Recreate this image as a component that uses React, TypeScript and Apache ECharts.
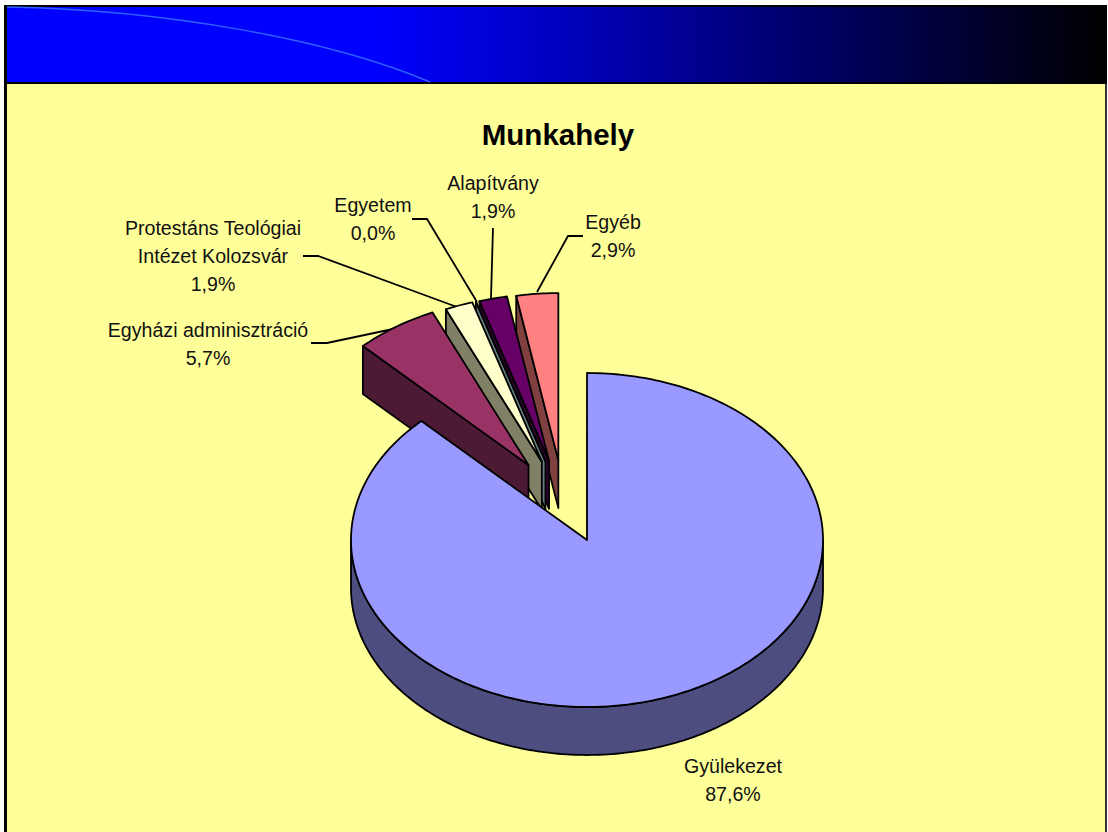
import React, { useEffect, useRef } from "react";
import * as echarts from "echarts";

const TITLE = "Munkahely";
const categories = ["Gyülekezet", "Egyházi adminisztráció", "Protestáns Teológiai\nIntézet Kolozsvár", "Egyetem", "Alapítvány", "Egyéb"];
const values = [92, 6, 2, 0, 2, 3];
const exploded = [false, true, true, true, true, true];
const topColors = ["#9999FF", "#993366", "#FFFFCC", "#CCFFFF", "#660066", "#FF8080"];
const sideColors = ["#4D4D80", "#4D1A33", "#808066", "#668080", "#330033", "#804040"];

// Layout
const labelCenters = [[733, 780], [208, 344], [213, 256], [373, 219], [493, 197], [613, 236]];
const leaders = [
  null,
  [[311, 343], [327, 343], [393, 329]],
  [[303, 256], [318, 256], [457, 307]],
  [[412, 219], [427, 219], [477, 302]],
  [[493, 228], [491, 298]],
  [[583, 236], [568, 236], [537, 292]],
];
const CX = 587, CY = 540, RX = 236, RY = 167, DEPTH = 48;
const FONT = "'Liberation Sans', Arial, sans-serif";

const total = values.reduce((a, b) => a + b, 0);
const startAngles: number[] = [];
values.reduce((acc, v, i) => {
  startAngles[i] = acc;
  return acc + (v / total) * 360;
}, 0);
const percent = (v: number) => ((v / total) * 100).toFixed(1).replace(".", ",") + "%";

const rad = (d: number) => (d * Math.PI) / 180;

function renderSlice(_params: any, api: any) {
  const i = api.value(1) as number;
  const v = api.value(0) as number;
  const a0 = startAngles[i];
  const a1 = a0 + (v / total) * 360;
  const mid = rad((a0 + a1) / 2);
  const ox = exploded[i] ? -23 + 63 * Math.sin(mid) : 0;
  const oy = exploded[i] ? -51 - 29 * Math.cos(mid) : 0;
  const cx = CX + ox, cy = CY + oy;
  const pt = (deg: number, dy = 0) => [cx + RX * Math.sin(rad(deg)), cy - RY * Math.cos(rad(deg)) + dy];
  const arc = (from: number, to: number, dy = 0) => {
    const n = Math.max(1, Math.ceil(Math.abs(to - from)));
    const out: number[][] = [];
    for (let k = 0; k <= n; k++) out.push(pt(from + ((to - from) * k) / n, dy));
    return out;
  };
  const line = { stroke: "#000", lineWidth: 1.8, lineJoin: "round" };
  const children: any[] = [];
  if (exploded[i]) {
    children.push({
      type: "polygon",
      shape: { points: [pt(a0), [cx, cy], [cx, cy + DEPTH], pt(a0, DEPTH)] },
      style: { fill: sideColors[i], ...line },
    });
  } else {
    children.push({
      type: "polygon",
      shape: { points: [...arc(90, 270), ...arc(270, 90, DEPTH)] },
      style: { fill: sideColors[i], ...line },
    });
  }
  children.push({
    type: "polygon",
    shape: { points: [[cx, cy], ...arc(a0, a1)] },
    style: { fill: topColors[i], ...line },
  });
  return { type: "group", children };
}

export default function App() {
  const ref = useRef<HTMLDivElement>(null);
  useEffect(() => {
    const chart = echarts.init(ref.current!, null, { renderer: "svg" });
    const paintOrder = values.map((_, i) => values.length - 1 - i);
    const graphicElements: any[] = [
      { type: "rect", z: -10, shape: { x: 7, y: 84, width: 1098, height: 748 }, style: { fill: "#FFFF99" } },
      {
        type: "rect", z: -10, shape: { x: 7, y: 7, width: 1100, height: 75 },
        style: {
          fill: new echarts.graphic.LinearGradient(0, 0, 1, 0, [
            { offset: 0, color: "#0000FF" },
            { offset: 0.334, color: "#0000FF" },
            { offset: 1, color: "#000000" },
          ]),
        },
      },
      { type: "rect", z: -9, shape: { x: 4, y: 5, width: 1103, height: 2 }, style: { fill: "#000" } },
      { type: "rect", z: -9, shape: { x: 4, y: 5, width: 3, height: 827 }, style: { fill: "#000" } },
      { type: "rect", z: -9, shape: { x: 4, y: 82, width: 1103, height: 2 }, style: { fill: "#000" } },
      { type: "rect", z: -9, shape: { x: 1105, y: 84, width: 2, height: 748 }, style: { fill: "#333" } },
      {
        type: "bezierCurve", z: -8,
        shape: { x1: 7, y1: 7, cpx1: 170, cpy1: 10, cpx2: 330, cpy2: 40, x2: 430, y2: 82 },
        style: { stroke: "#3060FF", lineWidth: 1.5, fill: "none" },
      },
    ];
    leaders.forEach((pts) => {
      if (pts) graphicElements.push({ type: "polyline", z: 1, shape: { points: pts }, style: { stroke: "#000", lineWidth: 1.8, fill: "none" } });
    });
    categories.forEach((c, i) => {
      graphicElements.push({
        type: "text", z: 1,
        style: {
          text: c + "\n" + percent(values[i]),
          x: labelCenters[i][0], y: labelCenters[i][1],
          align: "center", verticalAlign: "middle",
          fontSize: 19.6, lineHeight: 28, fontFamily: FONT, fill: "#111",
        },
      });
    });
    chart.setOption({
      animation: false,
      title: {
        text: TITLE, left: 553, top: 114, textAlign: "center",
        textStyle: { fontFamily: FONT, fontSize: 29.5, fontWeight: "bold", color: "#000" },
      },
      graphic: { elements: graphicElements },
      series: [
        {
          type: "custom",
          coordinateSystem: "none",
          silent: true,
          renderItem: renderSlice,
          data: paintOrder.map((i) => ({ name: categories[i], value: [values[i], i] })),
        },
      ],
    });
    return () => chart.dispose();
  }, []);
  return <div ref={ref} style={{ position: "absolute", left: 0, top: 0, width: 1108, height: 832, background: "#fff" }} />;
}
